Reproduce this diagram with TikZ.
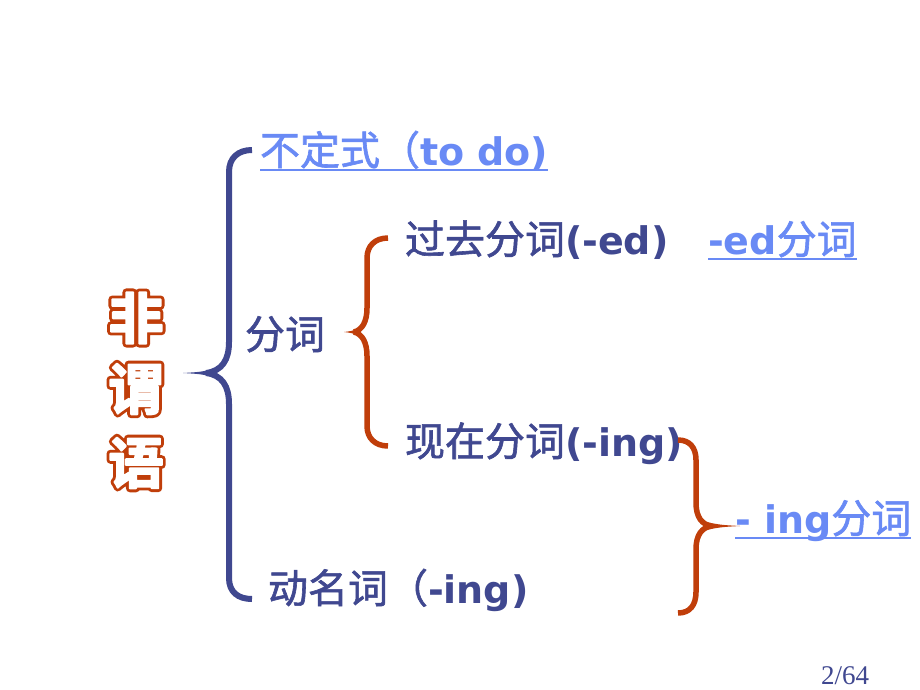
\documentclass[tikz,border=0pt]{standalone}
\usepackage{fontspec}
\newfontfamily\cjk{Noto Sans CJK SC}[FakeBold=1.5]
\newfontfamily\lat{DejaVu Sans}
\newfontfamily\pgnum{Liberation Serif}
\newfontfamily\outerfont{Noto Sans CJK SC Bold}[FakeBold=14]
\newfontfamily\innerfont{Noto Sans CJK SC Bold}[FakeBold=3.5]
\definecolor{dblue}{RGB}{64,72,144}
\definecolor{lblue}{RGB}{105,138,245}
\definecolor{brorange}{RGB}{192,62,10}
\newcommand\zh[1]{{\cjk\fontsize{40}{44}\selectfont #1}}
\newcommand\en[1]{{\lat\bfseries\fontsize{38}{44}\selectfont #1}}
\tikzset{
  lbl/.style={anchor=base west, inner sep=0pt, outer sep=0pt},
  ul/.style={draw=lblue, line width=2pt},
  bluebrace/.style={draw=dblue, line width=6pt},
  orbrace/.style={draw=brorange, line width=5.5pt},
  titleout/.style={text=brorange, inner sep=0pt, font=\outerfont\fontsize{55}{55}\selectfont},
  titlein/.style={text=white, inner sep=0pt, font=\innerfont\fontsize{55}{55}\selectfont}
}
\begin{document}
\begin{tikzpicture}[x=1pt,y=-1pt]
\useasboundingbox[fill=white] (0,0) rectangle (920,690);

% title characters
\begin{scope}[line join=round, line cap=round]
\foreach \c/\yy/\n in {非/318/ta, 谓/389/tb, 语/463/tc}{
  \node[titleout] (\n o) at (136,\yy) {\c};
  \node[titlein] (\n i) at (136,\yy) {\c};
}
\end{scope}

% texts
\node[lbl, text=lblue] (inf) at (260,165) {\zh{不定式（}\en{to do)}};
\node[lbl, text=dblue] (ptc) at (245,349) {\zh{分词}};
\node[lbl, text=dblue] (past) at (405,254) {\zh{过去分词}\en{(-ed)}};
\node[lbl, text=lblue] (ed) at (708,254) {\en{-ed}\zh{分词}};
\node[lbl, text=dblue] (pres) at (405,456) {\zh{现在分词}\en{(-ing)}};
\node[lbl, text=lblue] (ing) at (735,533) {\en{- ing}\zh{分词}};
\node[lbl, text=dblue] (ger) at (268,603) {\zh{动名词（}\en{-ing)}};
\node[lbl, text=dblue] (pg) at (821,684) {\pgnum\fontsize{27}{29}\selectfont 2/64};

% underlines
\foreach \n in {inf, ed, ing}{
  \draw[ul] ([yshift=-5pt]\n.base west) -- ([yshift=-5pt]\n.base east);
}

% blue brace
\draw[bluebrace] (252,150) .. controls (238,150) and (229,158) .. (229,172) -- (229,342)
  .. controls (229,360) and (222,371) .. (206,373);
\draw[bluebrace] (206,373) .. controls (222,375) and (229,386) .. (229,404) -- (229,578)
  .. controls (229,592) and (238,599) .. (252,599);
\fill[dblue] (214,369) .. controls (200,372) .. (183,373) .. controls (200,374) .. (214,377) -- cycle;

% orange brace (left of participles)
\draw[orbrace] (388,238) .. controls (375,238) and (367,246) .. (367,258) -- (367,308)
  .. controls (367,322) and (362,330) .. (354,332);
\draw[orbrace] (354,332) .. controls (362,334) and (367,342) .. (367,356) -- (367,426)
  .. controls (367,438) and (375,446) .. (388,446);
\fill[brorange] (358,328.5) .. controls (352,331) .. (344,332) .. controls (352,333) .. (358,335.5) -- cycle;

% orange brace (right, -ing)
\draw[orbrace] (678,440) .. controls (690,440) and (696,448) .. (696,460) -- (696,503)
  .. controls (696,517) and (702,525) .. (712,526);
\draw[orbrace] (712,526) .. controls (702,527) and (696,535) .. (696,549) -- (696,592)
  .. controls (696,605) and (690,613) .. (678,613);
\fill[brorange] (708,522.5) .. controls (722,525) .. (740,526) .. controls (722,527) .. (708,529.5) -- cycle;
\end{tikzpicture}
\end{document}
